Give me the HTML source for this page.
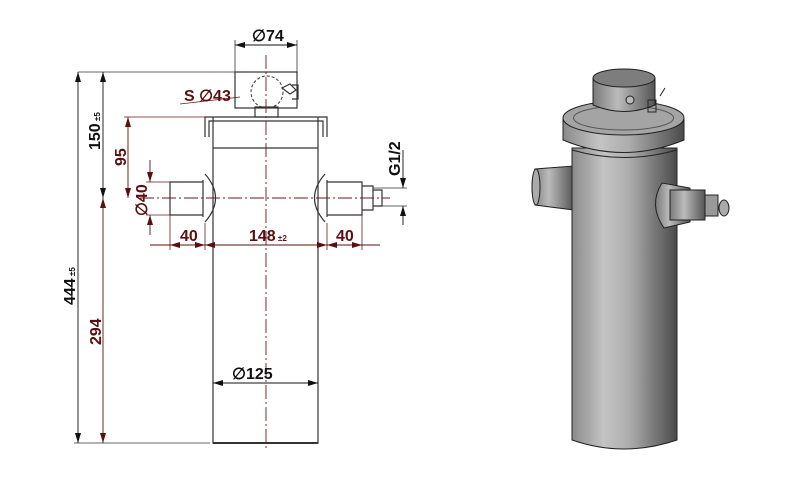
<!DOCTYPE html>
<html><head><meta charset="utf-8"><style>html,body{margin:0;padding:0;background:#fff}svg{display:block}</style></head><body>
<svg width="800" height="501" viewBox="0 0 800 501" xmlns="http://www.w3.org/2000/svg" font-family="Liberation Sans Narrow, Liberation Sans, sans-serif" font-weight="bold">
<defs>
<marker id="a" viewBox="0 0 10 6" refX="10" refY="3" markerWidth="10" markerHeight="6" orient="auto-start-reverse" markerUnits="userSpaceOnUse"><path d="M0,0L10,3L0,6z" fill="#111"/></marker>
<marker id="r" viewBox="0 0 10 6" refX="10" refY="3" markerWidth="10" markerHeight="6" orient="auto-start-reverse" markerUnits="userSpaceOnUse"><path d="M0,0L10,3L0,6z" fill="#5a1010"/></marker>
<linearGradient id="cyl" x1="0" x2="1"><stop offset="0" stop-color="#8a8a8a"/><stop offset="0.3" stop-color="#c4c4c4"/><stop offset="0.55" stop-color="#acacac"/><stop offset="1" stop-color="#4a4a4a"/></linearGradient>
<linearGradient id="cyl2" x1="0" x2="1"><stop offset="0" stop-color="#7a7a7a"/><stop offset="0.4" stop-color="#bbb"/><stop offset="1" stop-color="#555"/></linearGradient>
</defs>
<!-- 2D drawing -->
<g stroke="#333" stroke-width="1.2" fill="none">
<rect x="235" y="72" width="62" height="36"/>
<rect x="255" y="107" width="23" height="10"/>
<path d="M205,137V117H327V137 M209,137V121H323V137"/>
<path d="M213,117V443H318V117 M213,148H318"/>
<path d="M170,182H203V215H170Z M203,180V217 M205,174Q226,198 205,222"/>
<path d="M327,182H362V215H327 M327,180V217 M325,174Q304,198 325,222 M362,186H373V210H362Z M373,190H382V206H373"/>
<path d="M213,443H318" stroke-width="2"/>
<path d="M282,88l8,-4l6,6l-6,4z M292,85h6v14h-6" />
</g>
<circle cx="267" cy="92" r="16" fill="none" stroke="#333" stroke-dasharray="3,2"/>
<g stroke="#6a1a1a" stroke-width="0.9" stroke-dasharray="14,3,2,3">
<line x1="266" y1="55" x2="266" y2="450"/>
<line x1="140" y1="198" x2="390" y2="198"/>
</g>
<g stroke="#333" stroke-width="0.8">
<line x1="78" y1="72" x2="235" y2="72"/>
<line x1="74" y1="443" x2="210" y2="443"/>
<line x1="235" y1="40" x2="235" y2="72"/>
<line x1="297" y1="40" x2="297" y2="72"/>
<line x1="373" y1="188" x2="407" y2="188"/>
<line x1="373" y1="206" x2="407" y2="206"/>
</g>
<g stroke="#6a1a1a" stroke-width="0.8">
<line x1="124" y1="117" x2="205" y2="117"/>
<line x1="146" y1="182" x2="170" y2="182"/>
<line x1="146" y1="215" x2="170" y2="215"/>
<line x1="170" y1="215" x2="170" y2="250"/>
<line x1="205" y1="223" x2="205" y2="250"/>
<line x1="327" y1="223" x2="327" y2="250"/>
<line x1="362" y1="215" x2="362" y2="250"/>
<line x1="180" y1="104" x2="240" y2="97"/>
</g>
<g stroke="#111" stroke-width="0.9">
<line x1="235" y1="45" x2="297" y2="45" marker-start="url(#a)" marker-end="url(#a)"/>
<line x1="78" y1="72" x2="78" y2="443" marker-start="url(#a)" marker-end="url(#a)"/>
<line x1="103" y1="72" x2="103" y2="198" marker-start="url(#a)" marker-end="url(#a)"/>
<line x1="213" y1="383" x2="318" y2="383" marker-start="url(#a)" marker-end="url(#a)"/>
<line x1="403" y1="150" x2="403" y2="188" marker-end="url(#a)"/>
<line x1="403" y1="225" x2="403" y2="206" marker-end="url(#a)"/>
</g>
<g stroke="#5a1010" stroke-width="0.9">
<line x1="103" y1="198" x2="103" y2="443" marker-start="url(#r)" marker-end="url(#r)"/>
<line x1="128" y1="117" x2="128" y2="198" marker-start="url(#r)" marker-end="url(#r)"/>
<line x1="150" y1="160" x2="150" y2="182" marker-end="url(#r)"/>
<line x1="150" y1="235" x2="150" y2="215" marker-end="url(#r)"/>
<line x1="150" y1="245" x2="380" y2="245"/>
<line x1="170" y1="245" x2="205" y2="245" marker-start="url(#r)" marker-end="url(#r)"/>
<line x1="205" y1="245" x2="327" y2="245" marker-start="url(#r)" marker-end="url(#r)"/>
<line x1="327" y1="245" x2="362" y2="245" marker-start="url(#r)" marker-end="url(#r)"/>
</g>
<g font-size="16" fill="#111">
<text x="252" y="41">∅74</text>
<text x="232" y="379">∅125</text>
<text transform="translate(100,150) rotate(-90)">150<tspan font-size="8"> ±5</tspan></text>
<text transform="translate(75,305) rotate(-90)">444<tspan font-size="8"> ±5</tspan></text>
<text transform="translate(400,176) rotate(-90)">G1/2</text>
</g>
<g font-size="16" fill="#5a1010">
<text x="184" y="101">S ∅43</text>
<text transform="translate(126,166) rotate(-90)">95</text>
<text transform="translate(101,345) rotate(-90)">294</text>
<text transform="translate(147,216) rotate(-90)">∅40</text>
<text x="180" y="241">40</text>
<text x="249" y="241">148<tspan font-size="8"> ±2</tspan></text>
<text x="336" y="241">40</text>
</g>
<!-- 3D render -->
<g stroke="#222" stroke-width="1">
<path d="M535,169Q529,187 535,205L574,210V166Z" fill="url(#cyl2)"/>
<ellipse cx="536" cy="187" rx="4" ry="18" fill="#aaa"/>
<path d="M572,148V440Q624,458 677,440V148Z" fill="url(#cyl)"/>
<path d="M563,118V140Q623,165 684,140V118Z" fill="url(#cyl)"/>
<ellipse cx="623.5" cy="118" rx="60.5" ry="17" fill="#a4a4a4"/>
<ellipse cx="623.5" cy="118" rx="50" ry="12" fill="none" stroke="#555"/>
<path d="M572,150Q624,165 677,150" fill="none"/>
<path d="M593,78V105Q624,118 655,105V78Z" fill="url(#cyl2)"/>
<ellipse cx="624" cy="78" rx="31" ry="9" fill="#7d7d7d"/>
<path d="M662,183Q648,205 664,228L690,222V188Z" fill="url(#cyl2)"/>
<path d="M670,190H705V220H670Z" fill="url(#cyl2)"/>
<path d="M705,195H718V216H705Z" fill="#999"/>
<ellipse cx="724" cy="208" rx="5" ry="8" fill="#aaa"/>
<circle cx="630" cy="100" r="4" fill="#bbb"/>
<path d="M648,100h8v12h-8z M660,96l5,-8" fill="none"/>
</g>
</svg>
</body></html>
